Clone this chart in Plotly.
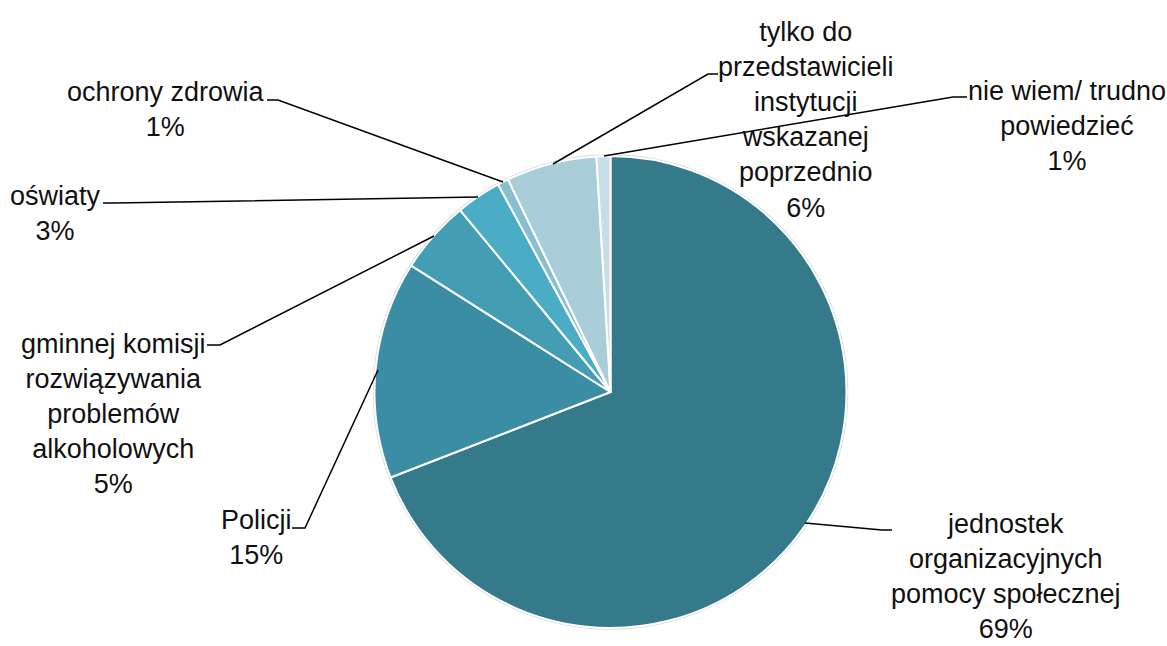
import plotly.graph_objects as go

W, H = 1167, 646

labels = [
    "jednostek<br>organizacyjnych<br>pomocy społecznej",
    "Policji",
    "gminnej komisji<br>rozwiązywania<br>problemów<br>alkoholowych",
    "oświaty",
    "ochrony zdrowia",
    "tylko do<br>przedstawicieli<br>instytucji<br>wskazanej<br>poprzednio",
    "nie wiem/ trudno<br>powiedzieć",
]
values = [69.1, 14.9, 5.0, 3.1, 0.75, 6.2, 0.95]
colors = ["#357A8B", "#3B8DA3", "#439DB3", "#4BACC6", "#87BFD0", "#A9CEDA", "#C6DEE6"]

# label block centres (pixels) and leader-line paths (pixels)
label_pos = [(1006, 576), (256, 537), (114, 414), (55, 213), (166, 110), (806, 120), (1067, 126)]
leaders = [
    [(805, 523), (882, 530), (892, 530)],
    [(292, 528), (305, 528), (378, 370)],
    [(207, 345), (220, 345), (434, 236)],
    [(103, 203), (114, 203), (478, 197)],
    [(267, 100), (278, 100), (503, 182)],
    [(718, 74), (708, 74), (553, 164)],
    [(967, 97), (953, 97), (604, 156)],
]

cx, cy, r = 610.5, 392, 236


def px(x):
    return x / W


def py(y):
    return 1 - y / H


fig = go.Figure()
fig.add_trace(go.Pie(
    labels=labels,
    values=values,
    sort=False,
    direction="clockwise",
    rotation=0,
    marker=dict(colors=colors, line=dict(color="white", width=2)),
    textinfo="none",
    hoverinfo="label+percent",
    showlegend=False,
    domain=dict(x=[px(cx - r), px(cx + r)], y=[py(cy + r), py(cy - r)]),
))

total = sum(values)
annotations = []
for lab, v, (x, y) in zip(labels, values, label_pos):
    annotations.append(dict(
        text=f"{lab}<br>{round(v / total * 100)}%",
        x=px(x), y=py(y), xref="paper", yref="paper",
        xanchor="center", yanchor="middle", align="center",
        showarrow=False, borderpad=0,
        font=dict(family="Liberation Sans, Arial, sans-serif", size=27, color="#111111"),
    ))

shapes = [dict(
    type="circle", xref="paper", yref="paper",
    xsizemode="pixel", ysizemode="pixel",
    xanchor=px(cx), yanchor=py(cy),
    x0=-r - 1, x1=r + 1, y0=-r - 1, y1=r + 1,
    line=dict(color="#D9D9D9", width=1.5), fillcolor="rgba(0,0,0,0)", layer="below",
)]
for pts in leaders:
    path = "M " + " L ".join(f"{px(x)},{py(y)}" for x, y in pts)
    shapes.append(dict(type="path", xref="paper", yref="paper", path=path,
                       line=dict(color="#000000", width=1.5)))

fig.update_layout(
    width=W, height=H,
    margin=dict(l=0, r=0, t=0, b=0),
    paper_bgcolor="white", plot_bgcolor="white",
    annotations=annotations, shapes=shapes,
)

fig.write_html(
    "out.html",
    config={"displayModeBar": False},
    post_script="document.body.style.margin='0';document.body.style.overflow='hidden';",
)
